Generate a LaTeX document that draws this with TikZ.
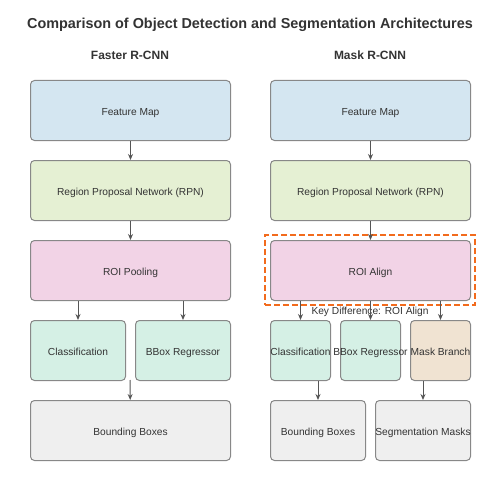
\documentclass[tikz,border=0pt]{standalone}
\usepackage{fontspec}
\setmainfont{Liberation Sans}
\usetikzlibrary{arrows.meta}
\definecolor{cblue}{HTML}{D4E6F1}
\definecolor{cgreen}{HTML}{E5F0D3}
\definecolor{cpink}{HTML}{F2D3E6}
\definecolor{cmint}{HTML}{D5F0E5}
\definecolor{cbeige}{HTML}{F0E3D2}
\definecolor{cgray}{HTML}{EFEFEF}
\definecolor{cborder}{HTML}{888888}
\definecolor{carrow}{HTML}{555555}
\definecolor{ctext}{HTML}{333333}
\definecolor{corange}{HTML}{F26B1D}
\tikzset{
  box/.style={draw=cborder, line width=1pt, rounded corners=4pt, inner sep=0pt},
  lbl/.style={text=ctext, font=\fontsize{10.2}{12}\selectfont, inner sep=0pt, text height=7.4pt, text depth=0pt},
  arr/.style={draw=carrow, line width=1pt, -{Stealth[length=6pt,width=5pt]}},
}
\newcommand{\bx}[5]{\node[box, fill=#5, minimum width=#4pt, minimum height=60pt, anchor=north west] (#1) at (#2,#3) {};}
\newcommand{\tx}[2]{\node[lbl, yshift=-1.2pt] (#1-t) at (#1.center) {#2};}
\begin{document}
\begin{tikzpicture}[x=1pt,y=-1pt]
\useasboundingbox (0,0) rectangle (500,500);
\fill[white] (0,0) rectangle (500,500);
\node[text=ctext, font=\bfseries\fontsize{14.4}{16}\selectfont] (title) at (250,25) {Comparison of Object Detection and Segmentation Architectures};
\node[text=ctext, font=\bfseries\fontsize{12}{14}\selectfont] (h1) at (130,55) {Faster R-CNN};
\node[text=ctext, font=\bfseries\fontsize{12}{14}\selectfont] (h2) at (370,55) {Mask R-CNN};
% left
\bx{lf}{30}{80}{200}{cblue}
\bx{lr}{30}{160}{200}{cgreen}
\bx{lp}{30}{240}{200}{cpink}
\bx{lc}{30}{320}{95}{cmint}
\bx{lb}{135}{320}{95}{cmint}
\bx{lo}{30}{400}{200}{cgray}
% right
\bx{rf}{270}{80}{200}{cblue}
\bx{rr}{270}{160}{200}{cgreen}
\bx{ra}{270}{240}{200}{cpink}
\bx{rc}{270}{320}{60}{cmint}
\bx{rb}{340}{320}{60}{cmint}
\bx{rm}{410}{320}{60}{cbeige}
\bx{ro}{270}{400}{95}{cgray}
\bx{rs}{375}{400}{95}{cgray}
% texts
\tx{lf}{Feature Map}
\tx{lr}{Region Proposal Network (RPN)}
\tx{lp}{ROI Pooling}
\tx{lc}{Classification}
\tx{lb}{BBox Regressor}
\tx{lo}{Bounding Boxes}
\tx{rf}{Feature Map}
\tx{rr}{Region Proposal Network (RPN)}
\tx{ra}{ROI Align}
\tx{rc}{Classification}
\tx{rb}{BBox Regressor}
\tx{rm}{Mask Branch}
\tx{ro}{Bounding Boxes}
\tx{rs}{Segmentation Masks}
% highlight
\node[draw=corange, line width=2pt, dash pattern=on 6pt off 3pt, minimum width=210pt, minimum height=70pt, inner sep=0pt] (hl) at (370,270) {};
\node[lbl] (key) at (370,311) {Key Difference: ROI Align};
% arrows left
\draw[arr] (lf) -- (lr);
\draw[arr] (lr) -- (lp);
\draw[arr] (lp.south -| lc) -- (lc);
\draw[arr] (lp.south -| lb) -- (lb);
\coordinate (lstart) at (130,380);
\draw[arr] (lstart) -- (lo);
% arrows right
\draw[arr] (rf) -- (rr);
\draw[arr] (rr) -- (ra);
\draw[arr] (ra.south -| rc) -- (rc);
\draw[arr] (ra.south -| rb) -- (rb);
\draw[arr] (ra.south -| rm) -- (rm);
\draw[arr] (rc.south -| ro) -- (ro);
\draw[arr] (rm.south -| rs) -- (rs);
\end{tikzpicture}
\end{document}
